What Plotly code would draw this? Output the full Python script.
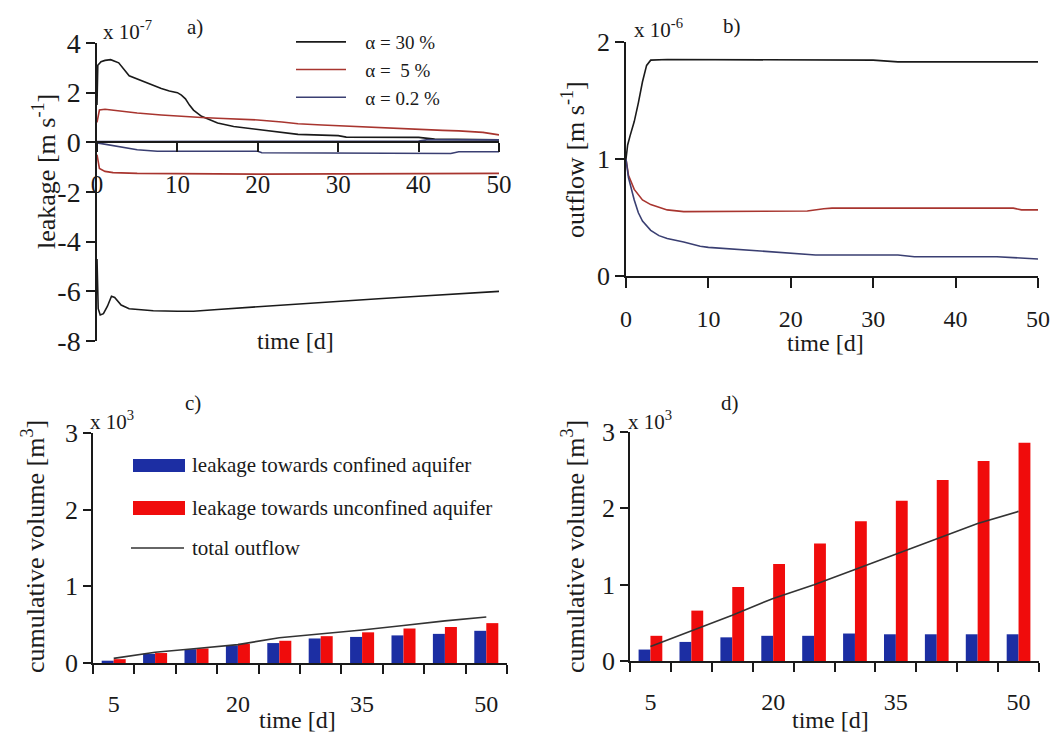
import plotly.graph_objects as go

# ---------------- data ----------------
# panel a) leakage [x1e-7 m/s]
a30_pos_t = [0, 0.1, 0.5, 1, 1.7, 2.7, 4, 5, 6, 7, 8, 9, 10, 10.5, 11, 11.5, 12, 13, 15, 17, 20, 23, 25, 30, 31, 40, 42, 50]
a30_pos_v = [1.5, 3.1, 3.25, 3.3, 3.33, 3.2, 2.68, 2.55, 2.4, 2.3, 2.17, 2.07, 2.0, 1.9, 1.75, 1.5, 1.3, 1.05, 0.78, 0.64, 0.51, 0.4, 0.32, 0.27, 0.21, 0.2, 0.13, 0.1]
a30_neg_t = [0, 0.15, 0.4, 0.8, 1.3, 1.8, 2.2, 3, 4, 5, 7, 10, 12, 15, 20, 25, 30, 35, 40, 45, 50]
a30_neg_v = [-4.7, -6.7, -6.95, -6.9, -6.6, -6.2, -6.25, -6.55, -6.7, -6.72, -6.78, -6.8, -6.8, -6.73, -6.62, -6.5, -6.38, -6.3, -6.2, -6.1, -6.0]
a5_pos_t = [0, 0.3, 1, 3, 5, 8, 10, 13, 15, 18, 20, 23, 25, 28, 30, 33, 35, 38, 40, 43, 45, 47, 48, 49, 50]
a5_pos_v = [0.8, 1.3, 1.33, 1.25, 1.18, 1.1, 1.05, 1.0, 0.97, 0.94, 0.9, 0.82, 0.75, 0.7, 0.67, 0.62, 0.58, 0.53, 0.5, 0.48, 0.46, 0.43, 0.4, 0.35, 0.3]
a5_neg_t = [0, 0.3, 1, 2, 5, 10, 20, 30, 40, 50]
a5_neg_v = [-0.5, -1.05, -1.17, -1.22, -1.25, -1.27, -1.28, -1.27, -1.26, -1.25]
a02_pos_t = [0, 5, 10, 20, 30, 40, 41, 45, 50]
a02_pos_v = [0.03, 0.03, 0.03, 0.03, 0.04, 0.05, 0.1, 0.1, 0.1]
a02_neg_t = [0, 1, 3, 5, 7.5, 20, 20.5, 40, 41, 44, 45, 50]
a02_neg_v = [-0.02, -0.08, -0.2, -0.3, -0.36, -0.36, -0.42, -0.42, -0.45, -0.45, -0.38, -0.38]

# panel b) outflow [x1e-6 m/s]
b30_t = [0, 0.2, 0.5, 1, 1.5, 2, 2.5, 3, 5, 10, 20, 30, 33, 40, 50]
b30_v = [1.0, 1.12, 1.2, 1.32, 1.48, 1.66, 1.8, 1.845, 1.85, 1.85, 1.85, 1.845, 1.83, 1.83, 1.83]
b5_t = [0, 0.3, 1, 2, 3, 5, 7, 10, 15, 20, 22, 24, 25, 30, 40, 47, 48, 50]
b5_v = [1.0, 0.86, 0.74, 0.65, 0.61, 0.565, 0.55, 0.55, 0.55, 0.55, 0.555, 0.575, 0.58, 0.58, 0.58, 0.58, 0.565, 0.565]
b02_t = [0, 0.3, 1, 1.5, 2, 3, 4, 5, 7, 9, 10, 15, 18, 23, 33, 35, 45, 50]
b02_v = [1.0, 0.84, 0.65, 0.54, 0.47, 0.39, 0.345, 0.32, 0.29, 0.255, 0.245, 0.22, 0.2, 0.18, 0.18, 0.165, 0.165, 0.145]

# panels c) and d) cumulative volume [x1e3 m3]
time_days = [5, 10, 15, 20, 25, 30, 35, 40, 45, 50]
c_confined = [0.03, 0.12, 0.18, 0.23, 0.26, 0.32, 0.34, 0.36, 0.38, 0.42]
c_unconfined = [0.05, 0.13, 0.19, 0.25, 0.29, 0.35, 0.40, 0.45, 0.47, 0.52]
c_outflow = [0.06, 0.14, 0.19, 0.24, 0.33, 0.38, 0.43, 0.49, 0.55, 0.60]
d_confined = [0.15, 0.25, 0.31, 0.33, 0.33, 0.36, 0.35, 0.35, 0.35, 0.35]
d_unconfined = [0.33, 0.66, 0.97, 1.27, 1.54, 1.83, 2.10, 2.37, 2.62, 2.86]
d_outflow = [0.19, 0.39, 0.60, 0.82, 1.00, 1.20, 1.40, 1.60, 1.80, 1.96]
cat_labels = ["5", "", "", "20", "", "", "35", "", "", "50"]

NB = "\u00a0"
leg_names = [NB * 3 + "α = 30 %", NB * 3 + "α =" + NB * 2 + "5 %", NB * 3 + "α = 0.2 %"]
# ---------------- styling ----------------
W, H = 1063, 734
FONT = "Liberation Serif"
INK = "#1a1a1a"
C30, C5, C02 = "#1a1a1a", "#a8352f", "#3a3f72"
BLUE, RED = "#1c2ea3", "#f00c0c"


def fx(p):
    return p / W


def fy(p):
    return 1 - p / H


fig = go.Figure()

# panel a
for t, v, c, name, show in [
    (a30_pos_t, a30_pos_v, C30, leg_names[0], True),
    (a5_pos_t, a5_pos_v, C5, leg_names[1], True),
    (a02_pos_t, a02_pos_v, C02, leg_names[2], True),
    (a30_neg_t, a30_neg_v, C30, leg_names[0], False),
    (a5_neg_t, a5_neg_v, C5, leg_names[1], False),
    (a02_neg_t, a02_neg_v, C02, leg_names[2], False),
]:
    fig.add_trace(go.Scatter(x=t, y=v, mode="lines", line=dict(color=c, width=1.6),
                             name=name, legendgroup=name, showlegend=show,
                             xaxis="x", yaxis="y"))

# panel b
for t, v, c, name in [(b30_t, b30_v, C30, leg_names[0]), (b5_t, b5_v, C5, leg_names[1]),
                      (b02_t, b02_v, C02, leg_names[2])]:
    fig.add_trace(go.Scatter(x=t, y=v, mode="lines", line=dict(color=c, width=1.6),
                             name=name, legendgroup=name, showlegend=False,
                             xaxis="x2", yaxis="y2"))

cats = [str(t) for t in time_days]
# panel c
fig.add_trace(go.Bar(x=cats, y=c_confined, marker=dict(color=BLUE, line=dict(width=0)),
                     name="leakage towards confined aquifer", showlegend=False,
                     xaxis="x3", yaxis="y3", offsetgroup="conf"))
fig.add_trace(go.Bar(x=cats, y=c_unconfined, marker=dict(color=RED, line=dict(width=0)),
                     name="leakage towards unconfined aquifer", showlegend=False,
                     xaxis="x3", yaxis="y3", offsetgroup="unconf"))
fig.add_trace(go.Scatter(x=cats, y=c_outflow, mode="lines", line=dict(color="#333333", width=1.6),
                         name="total outflow", showlegend=False, xaxis="x3", yaxis="y3"))
# panel d
fig.add_trace(go.Bar(x=cats, y=d_confined, marker=dict(color=BLUE, line=dict(width=0)),
                     name="leakage towards confined aquifer", showlegend=False,
                     xaxis="x4", yaxis="y4", offsetgroup="conf"))
fig.add_trace(go.Bar(x=cats, y=d_unconfined, marker=dict(color=RED, line=dict(width=0)),
                     name="leakage towards unconfined aquifer", showlegend=False,
                     xaxis="x4", yaxis="y4", offsetgroup="unconf"))
fig.add_trace(go.Scatter(x=cats, y=d_outflow, mode="lines", line=dict(color="#333333", width=1.6),
                         name="total outflow", showlegend=False, xaxis="x4", yaxis="y4"))

axis_common = dict(showline=True, linecolor=INK, linewidth=1.5, ticks="outside",
                   tickcolor=INK, tickwidth=1.5, showgrid=False, zeroline=False,
                   automargin=False, tickfont=dict(family=FONT, color=INK))

# panel a geometry
a_dom_y = [fy(341), fy(43)]
a_pos = a_dom_y[0] + (8 / 12) * (a_dom_y[1] - a_dom_y[0])
fig.update_layout(
    xaxis=dict(axis_common, domain=[fx(97), fx(499)], range=[0, 50], anchor="free",
               position=a_pos, tickvals=[0, 10, 20, 30, 40, 50], ticklen=9,
               ticklabelstandoff=11, tickfont=dict(family=FONT, color=INK, size=25)),
    yaxis=dict(axis_common, domain=a_dom_y, range=[-8, 4], anchor="x",
               tickvals=[-8, -6, -4, -2, 0, 2, 4], ticktext=["-8", "-6", "-4", "-2", "0", "2", "4"],
               ticklen=9, tickfont=dict(family=FONT, color=INK, size=28)),
    xaxis2=dict(axis_common, domain=[fx(626), fx(1038)], range=[0, 50], anchor="y2",
                tickvals=[0, 10, 20, 30, 40, 50], ticklen=10, ticklabelstandoff=10,
                tickfont=dict(family=FONT, color=INK, size=24)),
    yaxis2=dict(axis_common, domain=[fy(276), fy(42)], range=[0, 2], anchor="x2",
                tickvals=[0, 1, 2], ticklen=9, tickfont=dict(family=FONT, color=INK, size=26)),
    xaxis3=dict(axis_common, domain=[fx(93), fx(507)], type="category", anchor="y3",
                categoryorder="array", categoryarray=cats, range=[-0.5, 9.5],
                tickson="boundaries", tickvals=cats, ticktext=cat_labels, ticklen=9,
                ticklabelstandoff=18, tickfont=dict(family=FONT, color=INK, size=24)),
    yaxis3=dict(axis_common, domain=[fy(663), fy(433)], range=[0, 3], anchor="x3",
                tickvals=[0, 1, 2, 3], ticklen=8, tickfont=dict(family=FONT, color=INK, size=26)),
    xaxis4=dict(axis_common, domain=[fx(630), fx(1039)], type="category", anchor="y4",
                categoryorder="array", categoryarray=cats, range=[-0.5, 9.5],
                tickson="boundaries", tickvals=cats, ticktext=cat_labels, ticklen=9,
                ticklabelstandoff=18, tickfont=dict(family=FONT, color=INK, size=24)),
    yaxis4=dict(axis_common, domain=[fy(661), fy(432)], range=[0, 3], anchor="x4",
                tickvals=[0, 1, 2, 3], ticklen=8, tickfont=dict(family=FONT, color=INK, size=26)),
    barmode="group", bargap=0.42, bargroupgap=0,
    width=W, height=H, margin=dict(l=0, r=0, t=0, b=0, autoexpand=False),
    paper_bgcolor="white", plot_bgcolor="white",
    font=dict(family=FONT, color=INK),
    showlegend=True,
    legend=dict(x=fx(291), y=fy(23), xanchor="left", yanchor="top", bgcolor="rgba(0,0,0,0)",
                font=dict(family=FONT, size=19, color=INK), itemwidth=50,
                tracegroupgap=0, traceorder="normal"),
)

ann = []


def text(x, y, s, size, angle=0, xanchor="center", yanchor="middle"):
    ann.append(dict(x=fx(x), y=fy(y), xref="paper", yref="paper", text=s, showarrow=False,
                    textangle=angle, xanchor=xanchor, yanchor=yanchor,
                    font=dict(family=FONT, size=size, color=INK)))


# axis titles
text(44, 172, "leakage [m s<sup>-1</sup>]", 26, -90)
text(295, 341, "time [d]", 24)
text(573, 160, "outflow [m s<sup>-1</sup>]", 26, -90)
text(825, 343, "time [d]", 24)
text(33, 547, "cumulative volume [m<sup>3</sup>]", 26, -90)
text(297, 720, "time [d]", 24)
text(573, 547, "cumulative volume [m<sup>3</sup>]", 26, -90)
text(830, 720, "time [d]", 24)
# multipliers and panel letters
text(101, 30, "x 10<sup>-7</sup>", 21, xanchor="left")
text(195, 27, "a)", 21)
text(632, 28, "x 10<sup>-6</sup>", 21, xanchor="left")
text(732, 26, "b)", 21)
text(88, 420, "x 10<sup>3</sup>", 21, xanchor="left")
text(193, 403, "c)", 21)
text(626, 420, "x 10<sup>3</sup>", 21, xanchor="left")
text(730, 403, "d)", 21)
# manual legend for panel c
text(190, 465, "leakage towards confined aquifer", 21, xanchor="left")
text(190, 508, "leakage towards unconfined aquifer", 21, xanchor="left")
text(190, 548, "total outflow", 21, xanchor="left")
fig.update_layout(annotations=ann)

shapes = [
    dict(type="rect", xref="paper", yref="paper", x0=fx(133), x1=fx(185), y0=fy(472), y1=fy(459),
         fillcolor=BLUE, line=dict(width=0)),
    dict(type="rect", xref="paper", yref="paper", x0=fx(133), x1=fx(185), y0=fy(515), y1=fy(501),
         fillcolor=RED, line=dict(width=0)),
    dict(type="line", xref="paper", yref="paper", x0=fx(131), x1=fx(184), y0=fy(548), y1=fy(548),
         line=dict(color="#333333", width=1.6)),
]
fig.update_layout(shapes=shapes)

fig.write_html("out.html")
